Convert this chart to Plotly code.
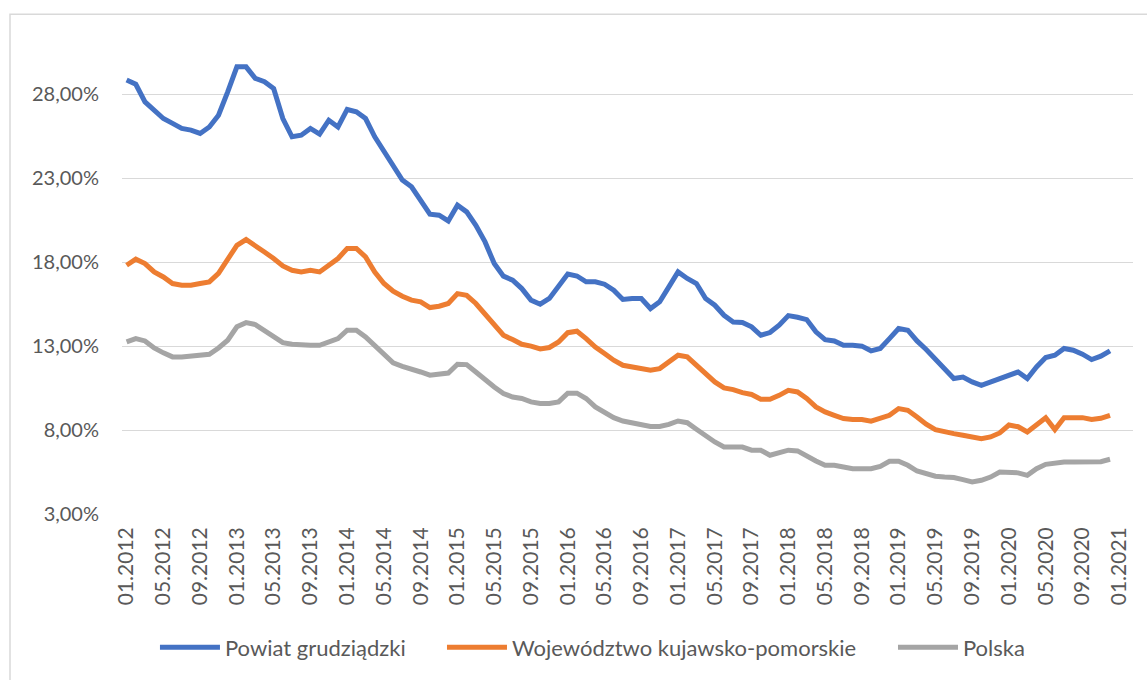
import plotly.graph_objects as go

series_names = ["Powiat grudziądzki", "Województwo kujawsko-pomorskie", "Polska"]

powiat = [28.85, 28.6, 27.55, 27.06, 26.56, 26.27, 25.97, 25.87, 25.67, 26.06, 26.76, 28.15,
          29.64, 29.64, 28.95, 28.75, 28.35, 26.56, 25.47, 25.57, 25.97, 25.63, 26.46, 26.06,
          27.1, 26.96, 26.56, 25.47, 24.57, 23.78, 22.89, 22.49, 21.69, 20.86, 20.8, 20.46,
          21.4, 21.0, 20.2, 19.21, 17.92, 17.17, 16.93, 16.43, 15.74, 15.5, 15.84, 16.63,
          17.3, 17.18, 16.83, 16.83, 16.69, 16.33, 15.78, 15.84, 15.84, 15.24, 15.64, 16.53,
          17.42, 17.03, 16.73, 15.84, 15.44, 14.84, 14.44, 14.41, 14.15, 13.65, 13.81, 14.25,
          14.82, 14.72, 14.58, 13.85, 13.39, 13.31, 13.05, 13.05, 13.0, 12.72, 12.86, 13.45,
          14.05, 13.95, 13.31, 12.8, 12.22, 11.66, 11.07, 11.16, 10.87, 10.67, 10.87, 11.13,
          11.3, 11.46, 11.07, 11.76, 12.32, 12.46, 12.86, 12.76, 12.52, 12.2, 12.4, 12.72]

wojewodztwo = [17.82, 18.18, 17.92, 17.42, 17.12, 16.73, 16.63, 16.63, 16.73, 16.83, 17.33, 18.12,
               19.01, 19.35, 19.01, 18.61, 18.22, 17.78, 17.52, 17.42, 17.52, 17.42, 17.82, 18.22,
               18.82, 18.82, 18.32, 17.42, 16.73, 16.27, 15.97, 15.74, 15.64, 15.3, 15.38, 15.54,
               16.13, 16.03, 15.54, 14.94, 14.25, 13.65, 13.39, 13.11, 13.0, 12.83, 12.92, 13.25,
               13.8, 13.89, 13.45, 12.95, 12.56, 12.16, 11.86, 11.76, 11.66, 11.56, 11.66, 12.02,
               12.46, 12.36, 11.86, 11.27, 10.87, 10.51, 10.41, 10.23, 10.12, 9.84, 9.84, 10.07,
               10.37, 10.27, 9.88, 9.38, 9.08, 8.88, 8.69, 8.63, 8.63, 8.53, 8.69, 8.88,
               9.28, 9.18, 8.78, 8.35, 8.03, 7.89, 7.79, 7.69, 7.59, 7.49, 7.59, 7.83,
               8.3, 8.2, 7.89, 8.3, 8.74, 8.03, 8.74, 8.74, 8.74, 8.63, 8.7, 8.88]

polska = [13.25, 13.45, 13.31, 12.89, 12.6, 12.36, 12.36, 12.42, 12.42, 12.52, 12.89, 13.35,
          14.15, 14.4, 14.29, 13.95, 13.55, 13.21, 13.11, 13.05, 13.05, 13.05, 13.25, 13.45,
          13.95, 13.95, 13.55, 13.0, 12.46, 12.0, 11.8, 11.66, 11.46, 11.27, 11.37, 11.4,
          11.92, 11.9, 11.46, 10.97, 10.57, 10.18, 9.97, 9.88, 9.68, 9.58, 9.58, 9.68,
          10.2, 10.2, 9.88, 9.38, 9.08, 8.74, 8.54, 8.44, 8.34, 8.22, 8.22, 8.34,
          8.54, 8.44, 8.05, 7.63, 7.29, 6.99, 6.99, 6.99, 6.8, 6.8, 6.5, 6.64,
          6.8, 6.76, 6.44, 6.16, 5.9, 5.9, 5.8, 5.7, 5.7, 5.7, 5.84, 6.14,
          6.14, 5.9, 5.56, 5.37, 5.25, 5.2, 5.17, 5.05, 4.91, 5.01, 5.2, 5.5,
          5.5, 5.45, 5.3, 5.7, 5.96, 6.06, 6.1, 6.1, 6.1, 6.1, 6.12, 6.26]

x_tick_labels = ["01.2012", "05.2012", "09.2012", "01.2013", "05.2013", "09.2013",
                 "01.2014", "05.2014", "09.2014", "01.2015", "05.2015", "09.2015",
                 "01.2016", "05.2016", "09.2016", "01.2017", "05.2017", "09.2017",
                 "01.2018", "05.2018", "09.2018", "01.2019", "05.2019", "09.2019",
                 "01.2020", "05.2020", "09.2020", "01.2021"]
x_tick_step = 4  # months between labels

y_tick_values = [3, 8, 13, 18, 23, 28]
y_tick_labels = ["3,00%", "8,00%", "13,00%", "18,00%", "23,00%", "28,00%"]

colors = ["#4472C4", "#ED7D31", "#A5A5A5"]
legend_ids = ["legend", "legend2", "legend3"]
legend_x = [0.0326, 0.3165, 0.7626]
FONT = "Lato"
TXT = "#595959"

fig = go.Figure()
for name, vals, col, lg in zip(series_names, [powiat, wojewodztwo, polska], colors, legend_ids):
    fig.add_trace(go.Scatter(
        x=list(range(len(vals))), y=vals, name=name, mode="lines",
        line=dict(color=col, width=5),
        hoverinfo="skip", legend=lg,
    ))

legend_common = dict(orientation="h", xanchor="left", y=-0.284, yanchor="middle",
                     font=dict(family=FONT, size=22, color=TXT), itemwidth=60,
                     bgcolor="rgba(0,0,0,0)")

fig.update_layout(
    width=1147, height=680,
    margin=dict(l=122, r=14, t=44, b=166),
    paper_bgcolor="white", plot_bgcolor="white",
    font=dict(family=FONT, size=21, color=TXT),
    showlegend=True,
    legend=dict(x=legend_x[0], **legend_common),
    legend2=dict(x=legend_x[1], **legend_common),
    legend3=dict(x=legend_x[2], **legend_common),
    xaxis=dict(
        range=[-0.5, 109.5],
        tickmode="array",
        tickvals=[i * x_tick_step for i in range(len(x_tick_labels))],
        ticktext=x_tick_labels,
        tickangle=-90,
        showgrid=False, zeroline=False, showline=False, ticks="",
        ticklabelstandoff=8,
        tickfont=dict(family=FONT, size=21, color=TXT),
    ),
    yaxis=dict(
        range=[3, 31],
        tickmode="array",
        tickvals=y_tick_values,
        ticktext=y_tick_labels,
        showgrid=True, gridcolor="#D9D9D9", gridwidth=1,
        zeroline=False, showline=False, ticks="",
        ticklabelstandoff=22,
        tickfont=dict(family=FONT, size=20, color=TXT),
    ),
    shapes=[dict(type="rect", xref="paper", yref="paper",
                 x0=-112 / 1011, x1=1.05, y0=-0.4, y1=(513.7 - 14) / 470,
                 line=dict(color="#D9D9D9", width=1.5), fillcolor="rgba(0,0,0,0)",
                 layer="below")],
)

fig.write_html("out.html", config={"displayModeBar": False},
               post_script="document.body.style.margin='0';document.body.style.overflow='hidden';")
